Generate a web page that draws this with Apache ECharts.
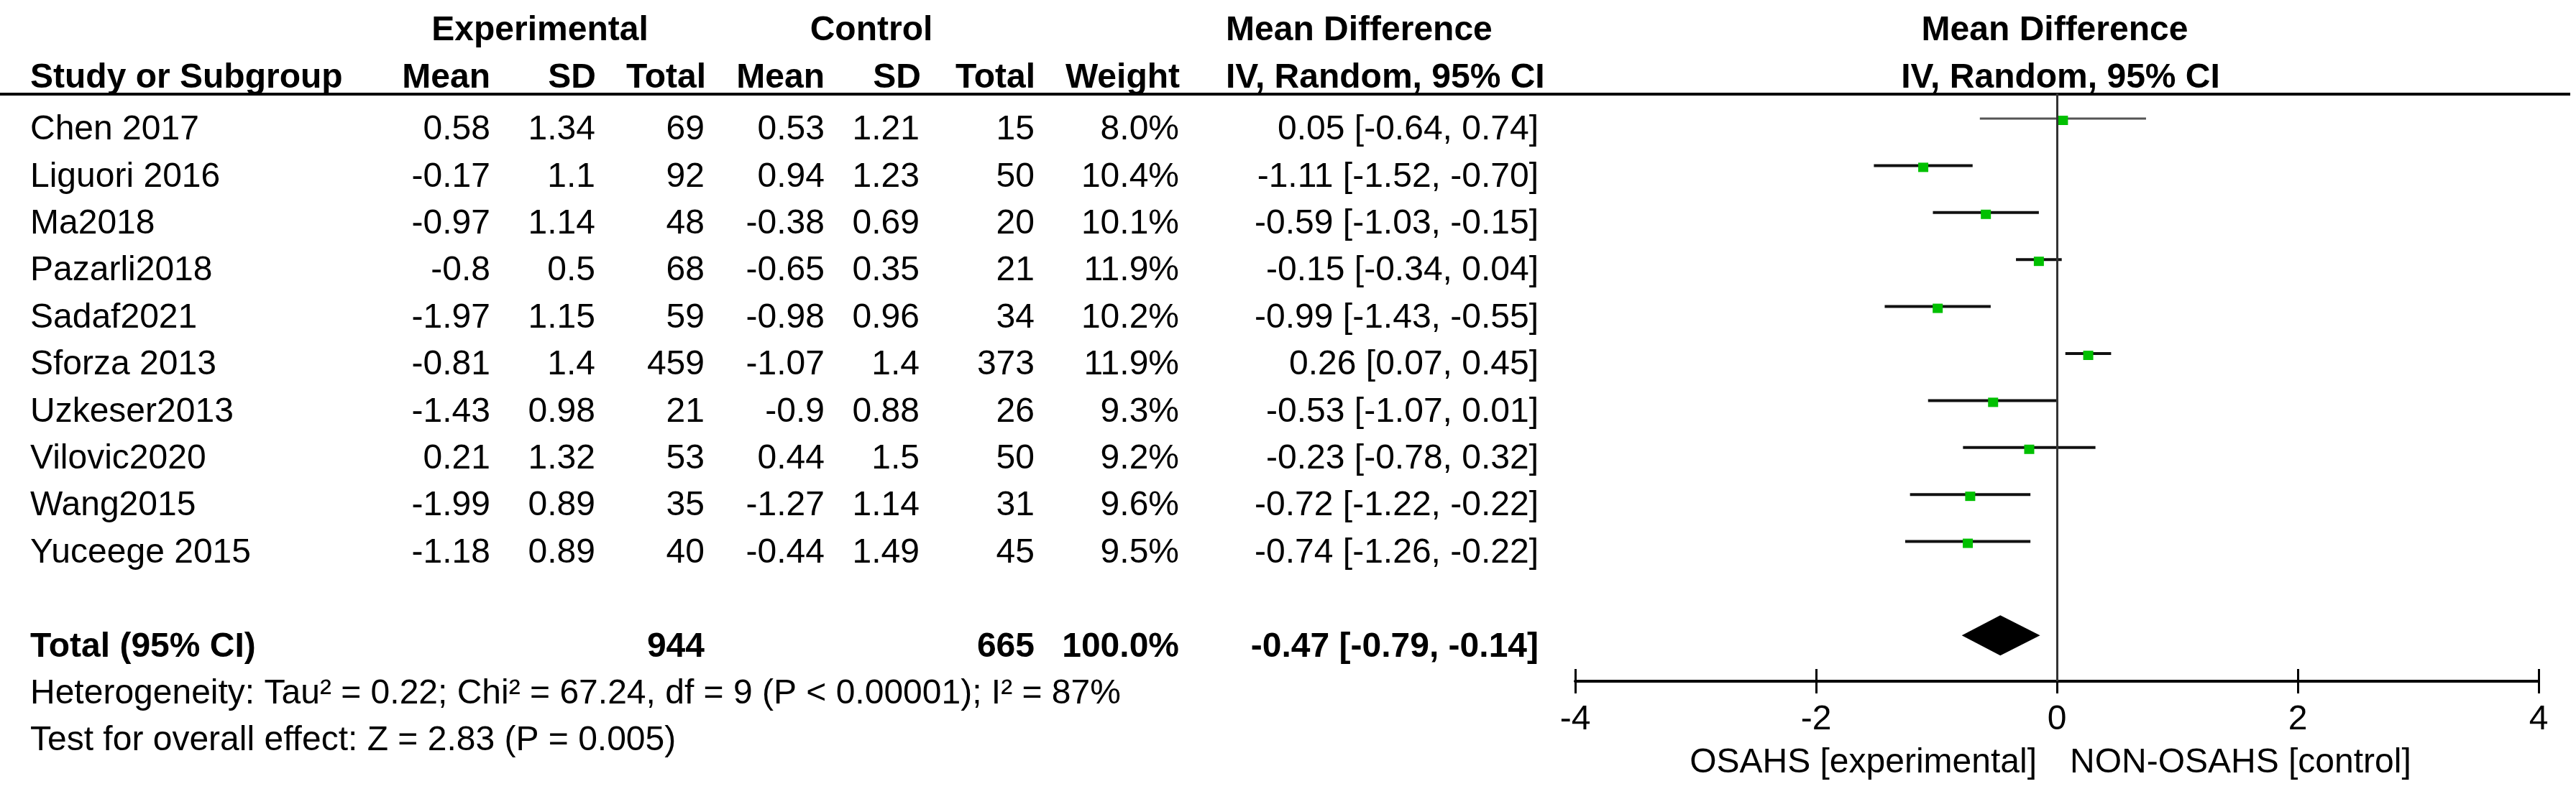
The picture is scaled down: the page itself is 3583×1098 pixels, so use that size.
<!DOCTYPE html>
<html>
<head>
<meta charset="utf-8">
<script src="https://cdn.jsdelivr.net/npm/echarts@6.0.0/dist/echarts.min.js"></script>
<style>
    html, body { margin: 0; padding: 0; background: #fff; }
    #forest { width: 3583px; height: 1098px; }
</style>
</head>
<body>
<div id="forest"></div>
<script>
// 研究数据
const studies  = ['Chen 2017','Liguori 2016','Ma2018','Pazarli2018','Sadaf2021','Sforza 2013','Uzkeser2013','Vilovic2020','Wang2015','Yuceege 2015'];
const expMean  = [0.58, -0.17, -0.97, -0.8, -1.97, -0.81, -1.43, 0.21, -1.99, -1.18];
const expSD    = [1.34, 1.1, 1.14, 0.5, 1.15, 1.4, 0.98, 1.32, 0.89, 0.89];
const expTotal = [69, 92, 48, 68, 59, 459, 21, 53, 35, 40];
const ctlMean  = [0.53, 0.94, -0.38, -0.65, -0.98, -1.07, -0.9, 0.44, -1.27, -0.44];
const ctlSD    = [1.21, 1.23, 0.69, 0.35, 0.96, 1.4, 0.88, 1.5, 1.14, 1.49];
const ctlTotal = [15, 50, 20, 21, 34, 373, 26, 50, 31, 45];
const weights  = ['8.0%','10.4%','10.1%','11.9%','10.2%','11.9%','9.3%','9.2%','9.6%','9.5%'];
const md       = [0.05, -1.11, -0.59, -0.15, -0.99, 0.26, -0.53, -0.23, -0.72, -0.74];
const ciLow    = [-0.64, -1.52, -1.03, -0.34, -1.43, 0.07, -1.07, -0.78, -1.22, -1.26];
const ciHigh   = [0.74, -0.70, -0.15, 0.04, -0.55, 0.45, 0.01, 0.32, -0.22, -0.22];

// 合并结果
const sumExpTotal = 944;
const sumCtlTotal = 665;
const sumWeight = '100.0%';
const pooledMD = -0.47;
const pooledLow = -0.79;
const pooledHigh = -0.14;
const heterogeneityText = 'Heterogeneity: Tau\u00b2 = 0.22; Chi\u00b2 = 67.24, df = 9 (P < 0.00001); I\u00b2 = 87%';
const overallText = 'Test for overall effect: Z = 2.83 (P = 0.005)';

// 坐标轴
const xTicks = { min: -4, max: 4, interval: 2 };
const favoursLeft = 'OSAHS [experimental]';
const favoursRight = 'NON-OSAHS [control]';

const FONT = '"Liberation Sans", Arial, sans-serif';
const FS = 48;
const TOTAL_ROW = studies.length + 1;

const ciText = (m, lo, hi) => `${m.toFixed(2)} [${lo.toFixed(2)}, ${hi.toFixed(2)}]`;

// 表格列 (x 为像素位置)
const cols = [
    { x: 42,   align: 'left'  },
    { x: 682,  align: 'right' },
    { x: 828,  align: 'right' },
    { x: 980,  align: 'right' },
    { x: 1147, align: 'right' },
    { x: 1279, align: 'right' },
    { x: 1439, align: 'right' },
    { x: 1640, align: 'right' },
    { x: 2140, align: 'right' }
];

// 表格行
const tableRows = studies.map((s, i) => ({
    row: i,
    bold: false,
    cells: [s, String(expMean[i]), String(expSD[i]), String(expTotal[i]),
            String(ctlMean[i]), String(ctlSD[i]), String(ctlTotal[i]),
            weights[i], ciText(md[i], ciLow[i], ciHigh[i])]
}));
tableRows.push({
    row: TOTAL_ROW, bold: true,
    cells: ['Total (95% CI)', '', '', String(sumExpTotal), '', '', String(sumCtlTotal),
            sumWeight, ciText(pooledMD, pooledLow, pooledHigh)]
});
tableRows.push({ row: TOTAL_ROW + 1, bold: false, cells: [heterogeneityText] });
tableRows.push({ row: TOTAL_ROW + 2, bold: false, cells: [overallText] });

function txt(text, x, y, align, bold) {
    return {
        type: 'text',
        style: {
            text: text, x: x, y: y,
            align: align, textAlign: align,
            verticalAlign: 'middle', textVerticalAlign: 'middle',
            fontSize: FS, fontFamily: FONT, fontWeight: bold ? 'bold' : 'normal',
            fill: '#000'
        }
    };
}

const chart = echarts.init(document.getElementById('forest'));

chart.setOption({
    animation: false,
    grid: [
        // 表格
        { left: 0, top: 0, width: 3583, height: 1098 },
        // 森林图
        { left: 2191, top: 130, width: 1340, height: 818 }
    ],
    xAxis: [
        { gridIndex: 0, type: 'value', min: 0, max: 3583, show: false },
        {
            gridIndex: 1, type: 'value', position: 'bottom',
            min: xTicks.min, max: xTicks.max, interval: xTicks.interval,
            axisLine: { show: true, onZero: false, lineStyle: { color: '#000', width: 4 } },
            axisTick: { show: true, length: 17, lineStyle: { color: '#000', width: 3 } },
            axisLabel: { fontSize: FS, fontFamily: FONT, color: '#000', margin: 30 },
            splitLine: { show: false }
        },
        {
            gridIndex: 1, type: 'value', position: 'bottom',
            min: xTicks.min, max: xTicks.max, interval: xTicks.interval,
            axisLine: { show: false, onZero: false },
            axisTick: { show: true, inside: true, length: 17, lineStyle: { color: '#000', width: 3 } },
            axisLabel: { show: false },
            splitLine: { show: false }
        }
    ],
    yAxis: [
        { gridIndex: 0, type: 'value', inverse: true, min: -2.768, max: 14.021, show: false },
        { gridIndex: 1, type: 'value', inverse: true, min: -0.535, max: 11.973, show: false }
    ],
    graphic: [
        // 表头分隔线
        { type: 'line', shape: { x1: 0, y1: 131, x2: 3575, y2: 131 }, style: { stroke: '#000', lineWidth: 4 } },
        txt('Experimental', 751, 43, 'center', true),
        txt('Control', 1212, 43, 'center', true),
        txt('Mean Difference', 1705, 43, 'left', true),
        txt('Mean Difference', 2858, 43, 'center', true),
        txt('Study or Subgroup', 42, 109, 'left', true),
        txt('Mean', 682, 109, 'right', true),
        txt('SD', 829, 109, 'right', true),
        txt('Total', 982, 109, 'right', true),
        txt('Mean', 1147, 109, 'right', true),
        txt('SD', 1281, 109, 'right', true),
        txt('Total', 1440, 109, 'right', true),
        txt('Weight', 1641, 109, 'right', true),
        txt('IV, Random, 95% CI', 1705, 109, 'left', true),
        txt('IV, Random, 95% CI', 2866, 109, 'center', true),
        txt(favoursLeft, 2833, 1062, 'right', false),
        txt(favoursRight, 2879, 1062, 'left', false)
    ],
    series: [
        {
            // 表格文字
            type: 'custom',
            xAxisIndex: 0, yAxisIndex: 0,
            silent: true,
            data: tableRows.map(r => [0, r.row]),
            renderItem: (params, api) => {
                const r = tableRows[params.dataIndex];
                const y = api.coord([0, api.value(1)])[1];
                return {
                    type: 'group',
                    children: r.cells.map((c, j) => txt(c, api.coord([cols[j].x, 0])[0], y, cols[j].align, r.bold))
                };
            }
        },
        {
            // 置信区间 + 方块
            type: 'custom',
            xAxisIndex: 1, yAxisIndex: 1,
            silent: true,
            data: studies.map((s, i) => [md[i], ciLow[i], ciHigh[i], i]),
            renderItem: (params, api) => {
                const row = api.value(3);
                const p0 = api.coord([api.value(1), row]);
                const p1 = api.coord([api.value(2), row]);
                const pm = api.coord([api.value(0), row]);
                return {
                    type: 'group',
                    children: [
                        { type: 'line', shape: { x1: p0[0], y1: p0[1], x2: p1[0], y2: p1[1] },
                          style: { stroke: params.dataIndex === 0 ? '#555' : '#111', lineWidth: params.dataIndex === 0 ? 3 : 4 } },
                        { type: 'rect', shape: { x: pm[0] - 7, y: pm[1] - 4, width: 14, height: 13 },
                          style: { fill: '#00c000' } }
                    ]
                };
            },
            markLine: {
                silent: true,
                symbol: 'none',
                label: { show: false },
                lineStyle: { color: '#333', width: 3, type: 'solid' },
                data: [{ xAxis: 0 }]
            }
        },
        {
            // 合并效应菱形
            type: 'custom',
            xAxisIndex: 1, yAxisIndex: 1,
            silent: true,
            data: [[pooledMD, pooledLow, pooledHigh, TOTAL_ROW]],
            renderItem: (params, api) => {
                const row = api.value(3);
                const pl = api.coord([api.value(1), row]);
                const pr = api.coord([api.value(2), row]);
                const pm = api.coord([api.value(0), row]);
                return {
                    type: 'polygon',
                    shape: { points: [[pl[0], pl[1]], [pm[0], pm[1] - 28], [pr[0], pr[1]], [pm[0], pm[1] + 28]] },
                    style: { fill: '#000' }
                };
            }
        }
    ]
});
</script>
</body>
</html>
